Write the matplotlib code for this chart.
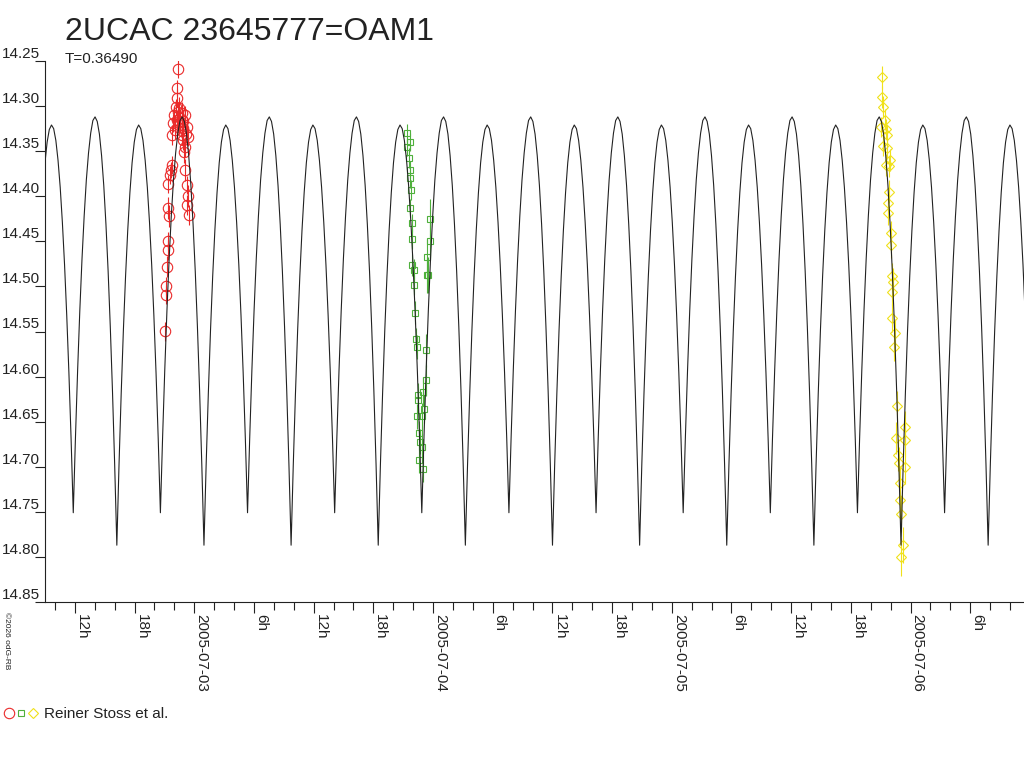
import numpy as np
import matplotlib
matplotlib.use("Agg")
import matplotlib.pyplot as plt
from matplotlib.ticker import MultipleLocator, FuncFormatter
from matplotlib.lines import Line2D

plt.rcParams['font.family'] = ['Liberation Sans', 'DejaVu Sans']

# Star, period (days) and model light curve epoch
star_name = "2UCAC 23645777=OAM1"
period_days = 0.36490
epoch_h = 16.22          # deep minimum, hours after 2005-07-02 00:00 UT

# One model cycle, phase counted from the deep minimum
phase_tpl = [0.000, 0.025, 0.050, 0.075, 0.100, 0.125, 0.150, 0.175, 0.200, 0.225,
             0.250, 0.275, 0.300, 0.325, 0.350, 0.375, 0.400, 0.425, 0.450, 0.475,
             0.500, 0.525, 0.550, 0.575, 0.600, 0.625, 0.650, 0.675, 0.700, 0.725,
             0.750, 0.775, 0.800, 0.825, 0.850, 0.875, 0.900, 0.925, 0.950, 0.975,
             1.000]
mag_tpl = [14.787, 14.698, 14.619, 14.549, 14.489, 14.438, 14.396, 14.363, 14.340, 14.326,
           14.321, 14.325, 14.338, 14.360, 14.390, 14.429, 14.476, 14.532, 14.596, 14.669,
           14.751, 14.668, 14.593, 14.527, 14.470, 14.422, 14.382, 14.352, 14.330, 14.316,
           14.312, 14.317, 14.331, 14.355, 14.388, 14.431, 14.483, 14.545, 14.616, 14.697,
           14.787]

# Observations (hours after 2005-07-02 00:00 UT, magnitude, error)
red_t = [21.055, 21.156, 21.156, 21.226, 21.387, 21.387, 21.387, 21.387, 21.487, 21.558,
         21.628, 21.729, 21.729, 21.829, 21.960, 22.060, 22.161, 22.231, 22.231, 22.291,
         22.362, 22.392, 22.462, 22.492, 22.563, 22.613, 22.734, 22.734, 22.764, 22.864,
         22.894, 22.894, 22.965, 23.065, 23.065, 23.065, 23.166, 23.236, 23.236, 23.296,
         23.367, 23.397, 23.497]
red_mag = [14.550, 14.510, 14.500, 14.478, 14.460, 14.450, 14.413, 14.386, 14.422, 14.376,
           14.371, 14.365, 14.332, 14.319, 14.310, 14.327, 14.301, 14.315, 14.280, 14.291,
           14.307, 14.259, 14.302, 14.321, 14.318, 14.313, 14.308, 14.328, 14.332, 14.324,
           14.317, 14.338, 14.351, 14.310, 14.345, 14.371, 14.331, 14.323, 14.388, 14.410,
           14.334, 14.400, 14.421]
red_err = [0.011, 0.010, 0.010, 0.012, 0.011, 0.010, 0.012, 0.010, 0.012, 0.010,
           0.009, 0.010, 0.011, 0.010, 0.009, 0.010, 0.009, 0.010, 0.009, 0.010,
           0.011, 0.010, 0.012, 0.010, 0.011, 0.010, 0.012, 0.010, 0.011, 0.012,
           0.010, 0.011, 0.012, 0.010, 0.011, 0.012, 0.010, 0.011, 0.010, 0.011,
           0.010, 0.012, 0.011]

green_t = [45.347, 45.347, 45.578, 45.678, 45.678, 45.678, 45.678, 45.779, 45.849, 45.910,
           45.910, 46.050, 46.111, 46.181, 46.251, 46.352, 46.352, 46.452, 46.513, 46.583,
           46.583, 46.683, 46.854, 46.854, 47.015, 47.015, 47.085, 47.256, 47.256, 47.357,
           47.357, 47.538, 47.688, 47.688]
green_mag = [14.330, 14.345, 14.358, 14.340, 14.371, 14.380, 14.413, 14.393, 14.430, 14.447,
             14.476, 14.498, 14.482, 14.529, 14.558, 14.567, 14.644, 14.620, 14.626, 14.663,
             14.692, 14.672, 14.644, 14.678, 14.702, 14.617, 14.636, 14.571, 14.604, 14.467,
             14.487, 14.487, 14.425, 14.450]
green_err = [0.010, 0.010, 0.011, 0.010, 0.010, 0.011, 0.010, 0.011, 0.010, 0.011,
             0.012, 0.011, 0.012, 0.013, 0.012, 0.013, 0.014, 0.013, 0.014, 0.014,
             0.015, 0.014, 0.015, 0.014, 0.015, 0.016, 0.016, 0.018, 0.017, 0.020,
             0.020, 0.020, 0.022, 0.021]

yellow_t = [92.985, 93.116, 93.116, 93.216, 93.216, 93.447, 93.548, 93.548, 93.648, 93.648,
            93.719, 93.719, 93.789, 93.789, 93.889, 93.990, 94.050, 94.121, 94.121, 94.121,
            94.221, 94.322, 94.392, 94.553, 94.653, 94.724, 94.794, 94.894, 94.894, 95.055,
            95.055, 95.226, 95.397, 95.397, 95.457]
yellow_mag = [14.323, 14.268, 14.290, 14.301, 14.344, 14.315, 14.325, 14.365, 14.332, 14.347,
              14.408, 14.419, 14.367, 14.395, 14.360, 14.441, 14.454, 14.489, 14.506, 14.535,
              14.495, 14.567, 14.552, 14.668, 14.633, 14.687, 14.696, 14.718, 14.737, 14.752,
              14.800, 14.787, 14.656, 14.670, 14.700]
yellow_err = [0.011, 0.013, 0.012, 0.012, 0.011, 0.012, 0.011, 0.012, 0.011, 0.012,
              0.013, 0.013, 0.012, 0.013, 0.012, 0.014, 0.014, 0.015, 0.015, 0.016,
              0.015, 0.016, 0.016, 0.018, 0.017, 0.018, 0.018, 0.019, 0.019, 0.020,
              0.021, 0.020, 0.018, 0.019, 0.019]

observer = "Reiner Stoss et al."
x_min_h, x_max_h = 9.0, 107.4
red, green, yellow = '#ea2a2a', '#4fb03c', '#f0e11a'
ink = '#222222'

fig = plt.figure(figsize=(10.24, 7.68), dpi=100)
ax = fig.add_axes([45 / 1024, 166 / 768, 979 / 1024, 541 / 768])

# model curve repeated over the whole time range
period_h = period_days * 24
k0 = int(np.floor((x_min_h - epoch_h) / period_h)) - 1
k1 = int(np.ceil((x_max_h - epoch_h) / period_h)) + 1
ph = np.array(phase_tpl[:-1])
curve_t, curve_m = [], []
for k in range(k0, k1):
    curve_t.extend(epoch_h + (ph + k) * period_h)
    curve_m.extend(mag_tpl[:-1])
ax.plot(curve_t, curve_m, color=ink, lw=0.8, zorder=3)

ax.errorbar(red_t, red_mag, yerr=red_err, fmt='o', ms=7.5, mfc='none', mec=red, mew=0.8,
            ecolor=red, elinewidth=0.8, capsize=0, zorder=2)
ax.errorbar(green_t, green_mag, yerr=green_err, fmt='s', ms=5, mfc='none', mec=green, mew=0.8,
            ecolor=green, elinewidth=0.8, capsize=0, zorder=2)
ax.errorbar(yellow_t, yellow_mag, yerr=yellow_err, fmt='D', ms=5, mfc='none', mec=yellow, mew=0.8,
            ecolor=yellow, elinewidth=0.8, capsize=0, zorder=2)

ax.set_xlim(x_min_h, x_max_h)
ax.set_ylim(14.85, 14.25)

for s in ['top', 'right']:
    ax.spines[s].set_visible(False)
for s in ['left', 'bottom']:
    ax.spines[s].set_color(ink)
    ax.spines[s].set_linewidth(0.8)

ax.set_yticks(np.arange(14.25, 14.851, 0.05))
ax.yaxis.set_major_formatter(FuncFormatter(lambda v, p: f"{v:.2f}"))
ax.tick_params(axis='y', direction='out', length=7.2, width=0.8, pad=-3.6,
               labelsize=11, colors=ink)
for lab in ax.get_yticklabels():
    lab.set_verticalalignment('bottom')


def time_label(v, pos):
    h = int(round(v))
    day, hour = 2 + h // 24, h % 24
    if hour == 0:
        return f"2005-07-{day:02d}"
    return f"{hour}h"


ax.xaxis.set_major_locator(MultipleLocator(6))
ax.xaxis.set_minor_locator(MultipleLocator(2))
ax.xaxis.set_major_formatter(FuncFormatter(time_label))
ax.tick_params(axis='x', which='major', direction='out', length=7.9, width=0.8, pad=0.8,
               labelsize=11, colors=ink, labelrotation=-90)
ax.tick_params(axis='x', which='minor', direction='out', length=5.8, width=0.8, colors=ink)
for lab in ax.get_xticklabels():
    lab.set_horizontalalignment('left')
    lab.set_verticalalignment('top')

fig.text(65 / 1024, 1 - 40 / 768, star_name, fontsize=23, color=ink, va='baseline')
fig.text(65 / 1024, 1 - 63 / 768, f"T={period_days:.5f}", fontsize=11, color=ink, va='baseline')
fig.text(6 / 1024, 1 - 612 / 768, "©2026 odG-RB", fontsize=6, color=ink,
         rotation=-90, ha='center', va='top')

# legend row at the bottom
for xp, mk, col, ms in [(9, 'o', red, 7.5), (21, 's', green, 5), (33, 'D', yellow, 5)]:
    fig.add_artist(Line2D([xp / 1024], [1 - 713 / 768], marker=mk, ms=ms, mfc='none',
                          mec=col, mew=0.8, ls='none', transform=fig.transFigure))
fig.text(44 / 1024, 1 - 718 / 768, observer, fontsize=11, color=ink, va='baseline')

fig.savefig("out.png", dpi=100)
